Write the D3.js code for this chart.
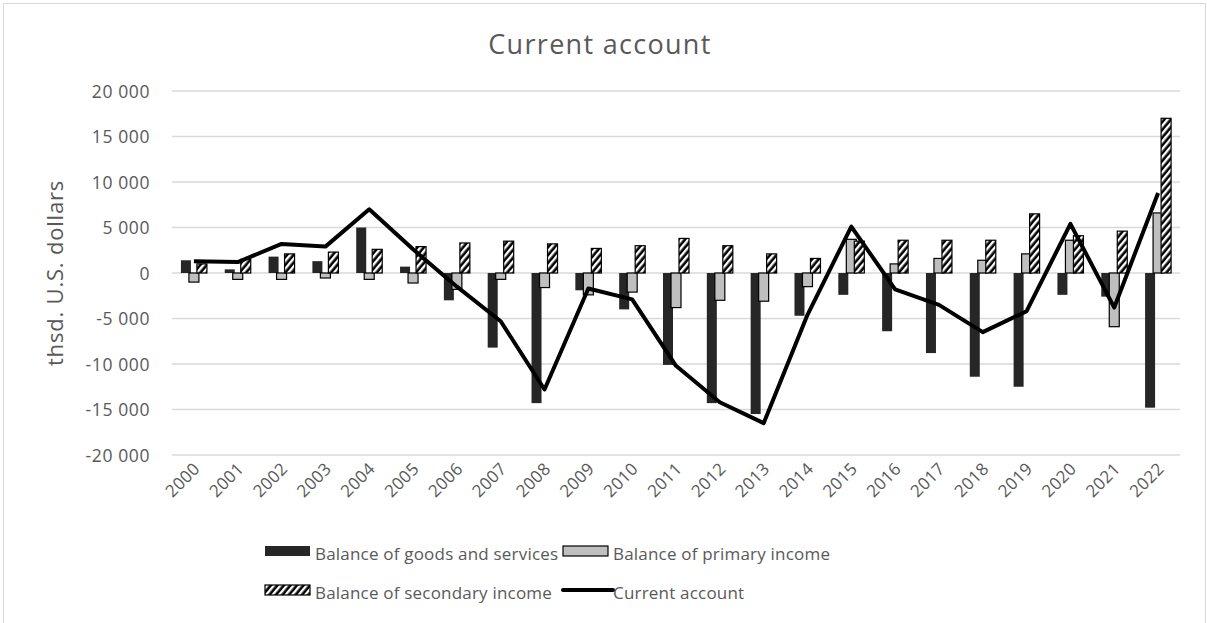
<!DOCTYPE html>
<html>
<head>
<meta charset="utf-8">
<script src="https://cdn.jsdelivr.net/npm/d3@7"></script>
<style>
  body { margin: 0; background: #fff; }
  svg { display: block; font-family: "Open Sans", "Noto Sans", sans-serif; }
</style>
</head>
<body>
<svg id="chart" width="1207" height="623"></svg>
<script>
// Current account components, thousand U.S. dollars
const years = ["2000","2001","2002","2003","2004","2005","2006","2007","2008","2009","2010","2011","2012","2013","2014","2015","2016","2017","2018","2019","2020","2021","2022"];
const goodsServices = [1400, 400, 1800, 1300, 5000, 700, -3000, -8200, -14300, -1900, -4000, -10100, -14300, -15500, -4700, -2400, -6400, -8800, -11400, -12500, -2400, -2600, -14800];
const primaryIncome = [-1000, -700, -700, -550, -700, -1100, -1800, -700, -1600, -2400, -2100, -3800, -3000, -3100, -1500, 3700, 1000, 1600, 1400, 2100, 3600, -5900, 6600];
const secondaryIncome = [1000, 1500, 2100, 2300, 2600, 2900, 3300, 3500, 3200, 2700, 3000, 3800, 3000, 2100, 1600, 3500, 3600, 3600, 3600, 6500, 4100, 4600, 17000];
const currentAccount = [1300, 1200, 3200, 2900, 7000, 2600, -1500, -5300, -12800, -1700, -2900, -10200, -14200, -16500, -4600, 5100, -1800, -3500, -6500, -4200, 5400, -3800, 8800];
const yTicks = [-20000, -15000, -10000, -5000, 0, 5000, 10000, 15000, 20000];

const svg = d3.select("#chart");
const W = 1207, H = 623;
const margin = { left: 172, right: 27, top: 91, bottom: 168 };
const textColor = "#595959";

// outer frame
svg.append("rect").attr("x", 3.5).attr("y", 3.5).attr("width", W - 5).attr("height", H + 10)
  .attr("fill", "none").attr("stroke", "#d9d9d9").attr("stroke-width", 1);

// hatch pattern for secondary income
const defs = svg.append("defs");
const pat = defs.append("pattern").attr("id", "hatch").attr("patternUnits", "userSpaceOnUse")
  .attr("width", 5).attr("height", 5).attr("patternTransform", "rotate(40)");
pat.append("rect").attr("width", 5).attr("height", 5).attr("fill", "#000");
pat.append("rect").attr("x", 0).attr("width", 2.4).attr("height", 5).attr("fill", "#fff");

const x = d3.scaleBand().domain(years).range([margin.left, W - margin.right]);
const y = d3.scaleLinear().domain([-20000, 20000]).range([H - margin.bottom, margin.top]);

// "20 000" style numbers with a plain space as thousands separator
const fmt = v => (v < 0 ? "-" : "") + d3.format(",")(Math.abs(v)).replace(/,/g, " ");

// gridlines
svg.append("g").selectAll("line").data(yTicks).join("line")
  .attr("x1", margin.left).attr("x2", W - margin.right)
  .attr("y1", d => y(d)).attr("y2", d => y(d))
  .attr("stroke", "#d9d9d9").attr("stroke-width", 1.5);

// y axis labels
const yAxis = d3.axisLeft(y).tickValues(yTicks).tickSize(0).tickPadding(0).tickFormat(fmt);
const gy = svg.append("g").attr("transform", `translate(${margin.left - 22},0)`).call(yAxis);
gy.select(".domain").remove();
gy.selectAll("text").attr("fill", textColor).attr("font-size", 17.5).attr("letter-spacing", 0.6)
  .attr("font-family", "'Open Sans', 'Noto Sans', sans-serif").attr("dy", "0.35em");

// x axis labels
const xAxis = d3.axisBottom(x).tickSize(0).tickPadding(0);
const gx = svg.append("g").attr("transform", `translate(0,${H - margin.bottom})`).call(xAxis);
gx.select(".domain").remove();
gx.selectAll("text").attr("fill", textColor).attr("font-size", 17).attr("letter-spacing", 0.3)
  .attr("font-family", "'Open Sans', 'Noto Sans', sans-serif")
  .attr("text-anchor", "end").attr("dy", 0)
  .attr("transform", "translate(7,15) rotate(-45)");

// bars
const barW = 10, step = 8;
const series = [
  { vals: goodsServices, fill: "#262626", stroke: "none", off: -1 },
  { vals: primaryIncome, fill: "#bfbfbf", stroke: "#000", off: 0 },
  { vals: secondaryIncome, fill: "url(#hatch)", stroke: "#000", off: 1 }
];
series.forEach(s => {
  svg.append("g").selectAll("rect").data(s.vals).join("rect")
    .attr("x", (d, i) => x(years[i]) + x.bandwidth() / 2 + s.off * step - barW / 2)
    .attr("width", barW)
    .attr("y", d => Math.min(y(d), y(0)))
    .attr("height", d => Math.abs(y(d) - y(0)))
    .attr("fill", s.fill)
    .attr("stroke", s.stroke).attr("stroke-width", 1.2);
});

// current account line
const line = d3.line().x((d, i) => x(years[i]) + x.bandwidth() / 2).y(d => y(d));
svg.append("path").datum(currentAccount).attr("d", line)
  .attr("fill", "none").attr("stroke", "#000").attr("stroke-width", 4).attr("stroke-linejoin", "round");

// title
svg.append("text").attr("x", 600).attr("y", 54).attr("text-anchor", "middle")
  .attr("font-size", 27).attr("letter-spacing", 1.3).attr("fill", textColor).text("Current account");

// y axis title
svg.append("text").attr("transform", `translate(63,${y(0)}) rotate(-90)`).attr("text-anchor", "middle")
  .attr("font-size", 22).attr("letter-spacing", 0.8).attr("fill", textColor).text("thsd. U.S. dollars");

// legend
const legend = svg.append("g").attr("font-size", 17).attr("letter-spacing", 0.2).attr("fill", textColor);
const items = [
  { label: "Balance of goods and services", type: "rect", fill: "#262626", stroke: "none", x: 265, y: 554 },
  { label: "Balance of primary income", type: "rect", fill: "#bfbfbf", stroke: "#000", x: 563, y: 554 },
  { label: "Balance of secondary income", type: "rect", fill: "url(#hatch)", stroke: "#000", x: 265, y: 593 },
  { label: "Current account", type: "line", x: 563, y: 593 }
];
items.forEach(it => {
  if (it.type === "rect") {
    legend.append("rect").attr("x", it.x).attr("y", it.y - 8).attr("width", 45).attr("height", 10)
      .attr("fill", it.fill).attr("stroke", it.stroke).attr("stroke-width", 1.2);
  } else {
    legend.append("line").attr("x1", it.x).attr("x2", it.x + 50).attr("y1", it.y - 3).attr("y2", it.y - 3)
      .attr("stroke", "#000").attr("stroke-width", 4).attr("stroke-linecap", "round");
  }
  legend.append("text").attr("x", it.x + 50).attr("y", it.y).attr("dy", "0.35em").text(it.label);
});
</script>
</body>
</html>
